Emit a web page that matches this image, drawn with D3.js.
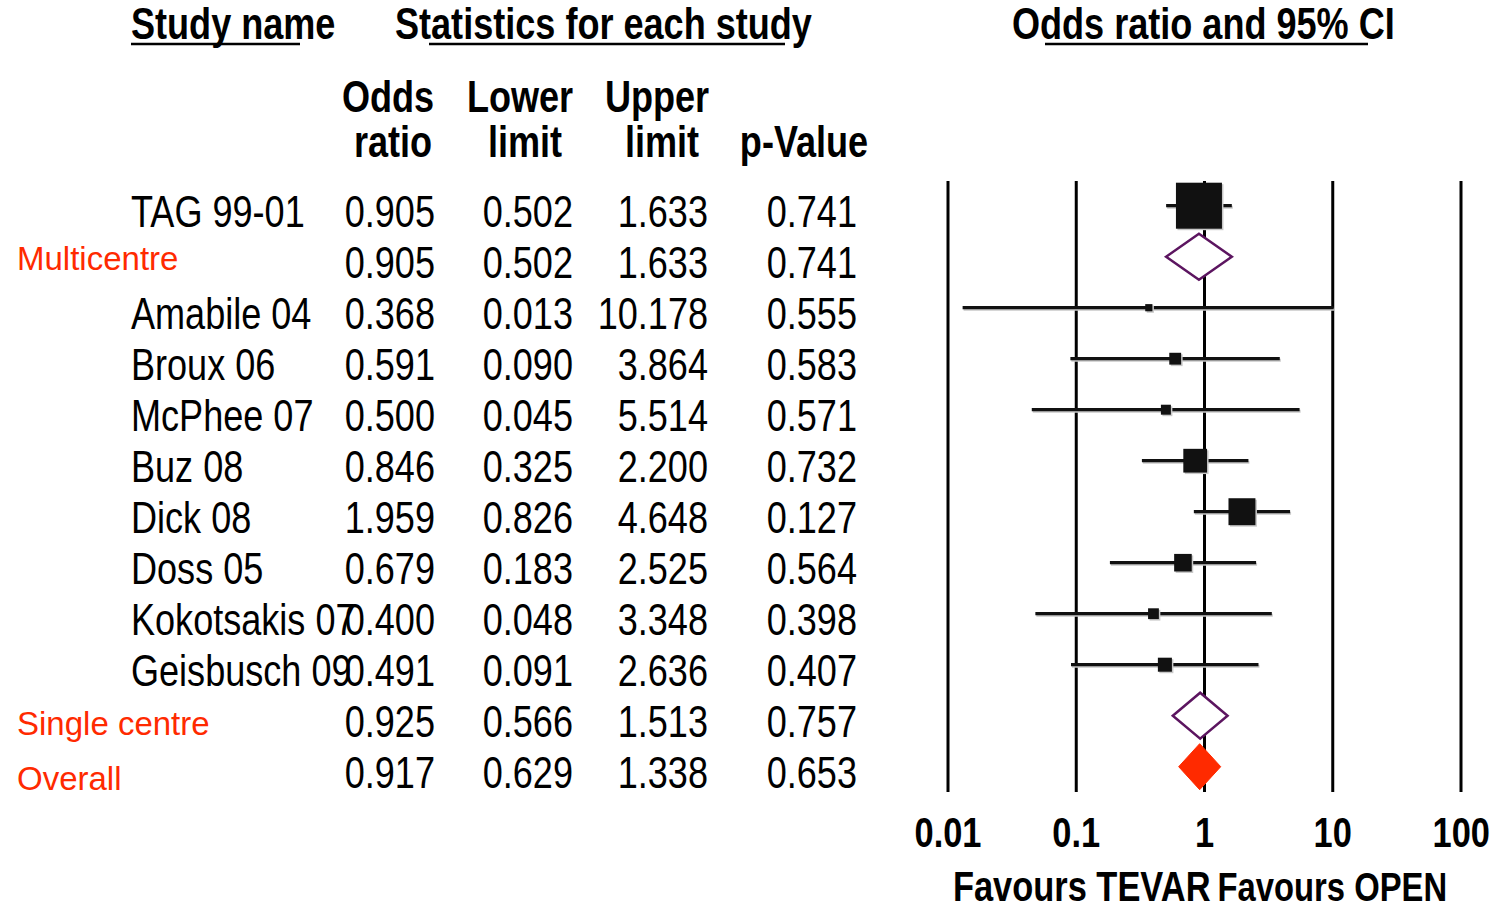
<!DOCTYPE html>
<html>
<head>
<meta charset="utf-8">
<script src="https://cdn.jsdelivr.net/npm/d3@7"></script>
<style>
  html, body { margin: 0; padding: 0; background: #fff; }
  svg { display: block; }
  text { font-family: "Liberation Sans", Arial, sans-serif; }
</style>
</head>
<body>
<svg id="chart" width="1494" height="911"></svg>
<script>
// Forest plot: odds ratios with 95% CI, TEVAR vs OPEN
const studyNames = ["TAG 99-01", "Multicentre", "Amabile 04", "Broux 06", "McPhee 07", "Buz 08",
                    "Dick 08", "Doss 05", "Kokotsakis 07", "Geisbusch 09", "Single centre", "Overall"];
const rowKinds   = ["study", "subgroup", "study", "study", "study", "study",
                    "study", "study", "study", "study", "subgroup", "overall"];
const oddsRatio  = [0.905, 0.905, 0.368, 0.591, 0.500, 0.846, 1.959, 0.679, 0.400, 0.491, 0.925, 0.917];
const lowerLimit = [0.502, 0.502, 0.013, 0.090, 0.045, 0.325, 0.826, 0.183, 0.048, 0.091, 0.566, 0.629];
const upperLimit = [1.633, 1.633, 10.178, 3.864, 5.514, 2.200, 4.648, 2.525, 3.348, 2.636, 1.513, 1.338];
const pValue     = [0.741, 0.741, 0.555, 0.583, 0.571, 0.732, 0.127, 0.564, 0.398, 0.407, 0.757, 0.653];
// relative weight (%) of each study; summary rows carry none
const relWeight  = [49.0, null, 1.2, 3.25, 2.3, 13.05, 16.8, 7.15, 2.7, 4.55, null, null];
const axisTicks  = [0.01, 0.1, 1, 10, 100];
const axisTickLabels = ["0.01", "0.1", "1", "10", "100"];

const rows = studyNames.map((name, i) => ({
  name, kind: rowKinds[i], or: oddsRatio[i], lo: lowerLimit[i], hi: upperLimit[i],
  p: pValue[i], w: relWeight[i], i
}));

const svg = d3.select("#chart");
const fmt = d3.format(".3f");

// scales
const x = d3.scaleLog().domain([0.01, 100]).range([948, 1461]);
const y = d3.scalePoint().domain(d3.range(rows.length)).range([205.7, 766.7]);
const side = d3.scaleSqrt().domain([0, d3.max(relWeight)]).range([0, 46]);

const BOLD = 44, BODY = 44, GROUP = 33;
const NARROW = 0.82; // condensed face: squeeze the regular face horizontally
const black = "#000", ink = "#111", red = "#ff2a00", purple = "#5c1560";

// place a condensed text with its anchor at (px, py)
function narrowText(g, px, py, str, opts = {}) {
  return g.append("text")
    .attr("transform", `translate(${px},${py}) scale(${NARROW},1)`)
    .attr("text-anchor", opts.anchor || "start")
    .attr("font-weight", opts.bold ? "bold" : null)
    .attr("font-size", opts.size || BODY)
    .attr("fill", opts.fill || black)
    .text(str);
}

// ---- column titles ----
const hdr = svg.append("g");
narrowText(hdr, 131, 39, "Study name", {bold: true, size: BOLD});
narrowText(hdr, 395, 39, "Statistics for each study", {bold: true, size: BOLD});
narrowText(hdr, 1012, 39, "Odds ratio and 95% CI", {bold: true, size: BOLD});
// partial underlines under the titles
[[131, 300], [429, 785], [1045, 1368]].forEach(([a, b]) => {
  hdr.append("line").attr("x1", a).attr("x2", b).attr("y1", 44).attr("y2", 44)
    .attr("stroke", black).attr("stroke-width", 2.5);
});

const colHeads = [
  {cx: 388, lines: ["Odds", "ratio"], dx: [0, 5]},
  {cx: 520, lines: ["Lower", "limit"], dx: [0, 5]},
  {cx: 657, lines: ["Upper", "limit"], dx: [0, 5]},
  {cx: 804, lines: [null, "p-Value"], dx: [0, 0]}
];
colHeads.forEach(c => c.lines.forEach((t, k) => {
  if (!t) return;
  narrowText(hdr, c.cx + c.dx[k], k === 0 ? 112 : 157, t, {bold: true, size: BOLD, anchor: "middle"});
}));

// ---- table body ----
const body = svg.append("g");
const textBase = d => y(d.i) + 21;
const labelShift = {"Multicentre": -8, "Single centre": -2, "Overall": 2};

rows.forEach(d => {
  if (d.kind === "study") {
    narrowText(body, 131, textBase(d), d.name);
  } else {
    body.append("text")
      .attr("x", 17).attr("y", textBase(d) + labelShift[d.name])
      .attr("font-size", GROUP).attr("fill", red)
      .text(d.name);
  }
});

const valueCols = [
  {right: 435, get: d => d.or},
  {right: 573, get: d => d.lo},
  {right: 708, get: d => d.hi},
  {right: 857, get: d => d.p}
];
valueCols.forEach(col => {
  const g = body.append("g");
  rows.forEach(d => narrowText(g, col.right, textBase(d), fmt(col.get(d)), {anchor: "end"}));
});

// ---- plot ----
const plot = svg.append("g");
plot.selectAll("line.grid").data(axisTicks).join("line")
  .attr("x1", d => x(d)).attr("x2", d => x(d))
  .attr("y1", 181).attr("y2", 792)
  .attr("stroke", black).attr("stroke-width", 3);

const studies = rows.filter(d => d.kind === "study");
// soft drop shadow behind whiskers and boxes
plot.selectAll("line.shadow").data(studies).join("line")
  .attr("x1", d => x(d.lo) + 1).attr("x2", d => x(d.hi) + 1)
  .attr("y1", d => y(d.i) + 1.5).attr("y2", d => y(d.i) + 1.5)
  .attr("stroke", "#c8c8c8").attr("stroke-width", 3);
plot.selectAll("line.ci").data(studies).join("line")
  .attr("x1", d => x(d.lo)).attr("x2", d => x(d.hi))
  .attr("y1", d => y(d.i)).attr("y2", d => y(d.i))
  .attr("stroke", ink).attr("stroke-width", 3.2);
plot.selectAll("rect.shadow").data(studies).join("rect")
  .attr("x", d => x(d.or) - side(d.w) / 2 + 1.5)
  .attr("y", d => y(d.i) - side(d.w) / 2 + 1.5)
  .attr("width", d => side(d.w)).attr("height", d => side(d.w))
  .attr("fill", "#c8c8c8");
plot.selectAll("rect.box").data(studies).join("rect")
  .attr("x", d => x(d.or) - side(d.w) / 2)
  .attr("y", d => y(d.i) - side(d.w) / 2)
  .attr("width", d => side(d.w)).attr("height", d => side(d.w))
  .attr("fill", ink);

// summary diamonds
const half = 23;
const summaries = rows.filter(d => d.kind !== "study");
plot.selectAll("path.diamond").data(summaries).join("path")
  .attr("d", d => {
    const cy = y(d.i);
    return `M${x(d.lo)},${cy}L${x(d.or)},${cy - half}L${x(d.hi)},${cy}L${x(d.or)},${cy + half}Z`;
  })
  .attr("fill", d => d.kind === "overall" ? red : "#fff")
  .attr("stroke", d => d.kind === "overall" ? red : purple)
  .attr("stroke-width", d => d.kind === "overall" ? 1 : 2.5)
  .attr("stroke-linejoin", "miter");

// axis tick labels
const axisG = svg.append("g");
axisTicks.forEach((t, i) => {
  const last = i === axisTicks.length - 1;
  narrowText(axisG, last ? Math.min(x(t) + 29, 1490) : x(t), 847, axisTickLabels[i],
    {bold: true, size: 42, anchor: last ? "end" : "middle"});
});

// direction captions
narrowText(axisG, x(1) + 6, 901, "Favours TEVAR", {bold: true, size: 42, anchor: "end"});
narrowText(axisG, x(1) + 13, 901, "Favours OPEN", {bold: true, size: 40});
</script>
</body>
</html>
